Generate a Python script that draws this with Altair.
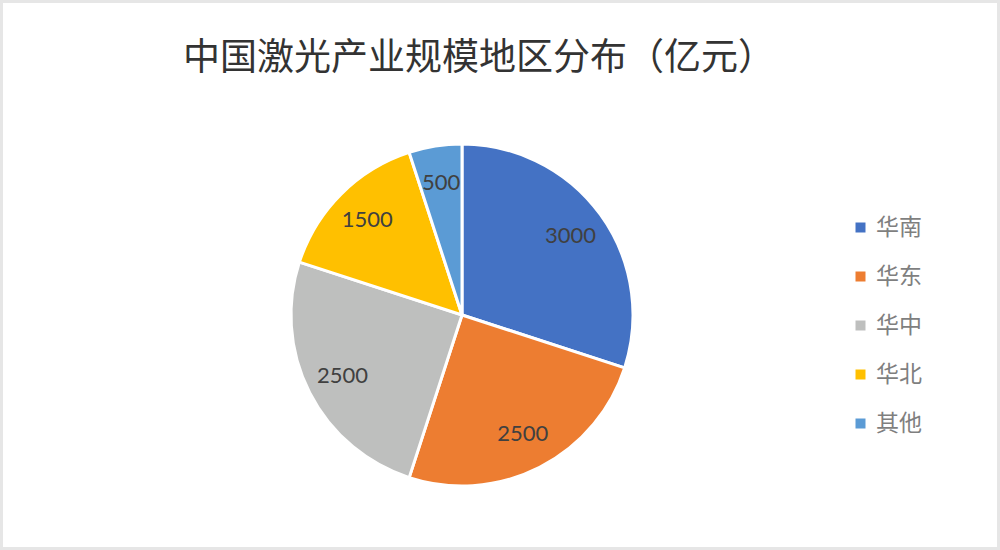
import altair as alt
import pandas as pd

# Regional scale of China's laser industry (100 million yuan)
regions = ["华南", "华东", "华中", "华北", "其他"]
values = [3000, 2500, 2500, 1500, 500]
colors = ["#4472C4", "#ED7D31", "#BEBFBE", "#FFC000", "#5B9BD5"]
title_text = "中国激光产业规模地区分布（亿元）"

df = pd.DataFrame({"region": regions, "value": values, "order": list(range(len(regions)))})

cx, cy, r = 462, 315, 171

# Light grey frame around the whole chart
frame = alt.Chart(pd.DataFrame({"k": [0]})).mark_rect(
    fill="white", stroke="#E6E6E6", strokeWidth=3
).encode(
    x=alt.value(1.5), x2=alt.value(998.5), y=alt.value(1.5), y2=alt.value(548.5)
)

base = alt.Chart(df).encode(
    theta=alt.Theta("value:Q", stack=True),
    order=alt.Order("order:Q"),
)

pie = base.mark_arc(outerRadius=r, stroke="white", strokeWidth=3).encode(
    x=alt.value(cx),
    y=alt.value(cy),
    color=alt.Color(
        "region:N",
        sort=regions,
        scale=alt.Scale(domain=regions, range=colors),
        legend=alt.Legend(
            title=None,
            orient="none",
            legendX=849,
            legendY=216,
            padding=0,
            symbolType="square",
            symbolSize=100,
            symbolStrokeWidth=0,
            labelFontSize=23,
            labelFont="Noto Sans CJK SC",
            labelColor="#7F7F7F",
            labelOffset=4,
            rowPadding=25,
        ),
    ),
)

labels = base.mark_text(
    radius=134, fontSize=22, font="Lato", color="#404040"
).encode(
    x=alt.value(cx),
    y=alt.value(cy),
    text=alt.Text("value:Q", format="d"),
)

title = alt.Chart(pd.DataFrame({"t": [title_text]})).mark_text(
    font="Noto Sans CJK SC", fontSize=37, color="#333333", align="center", baseline="middle"
).encode(x=alt.value(479), y=alt.value(59), text="t:N")

chart = alt.layer(frame, pie, labels, title).properties(
    width=1000, height=550, autosize=alt.AutoSizeParams(type="none"), padding=0,
).configure_view(stroke=None).configure(background="white")

chart.save("out.html", embed_options={"renderer": "svg", "actions": False})
